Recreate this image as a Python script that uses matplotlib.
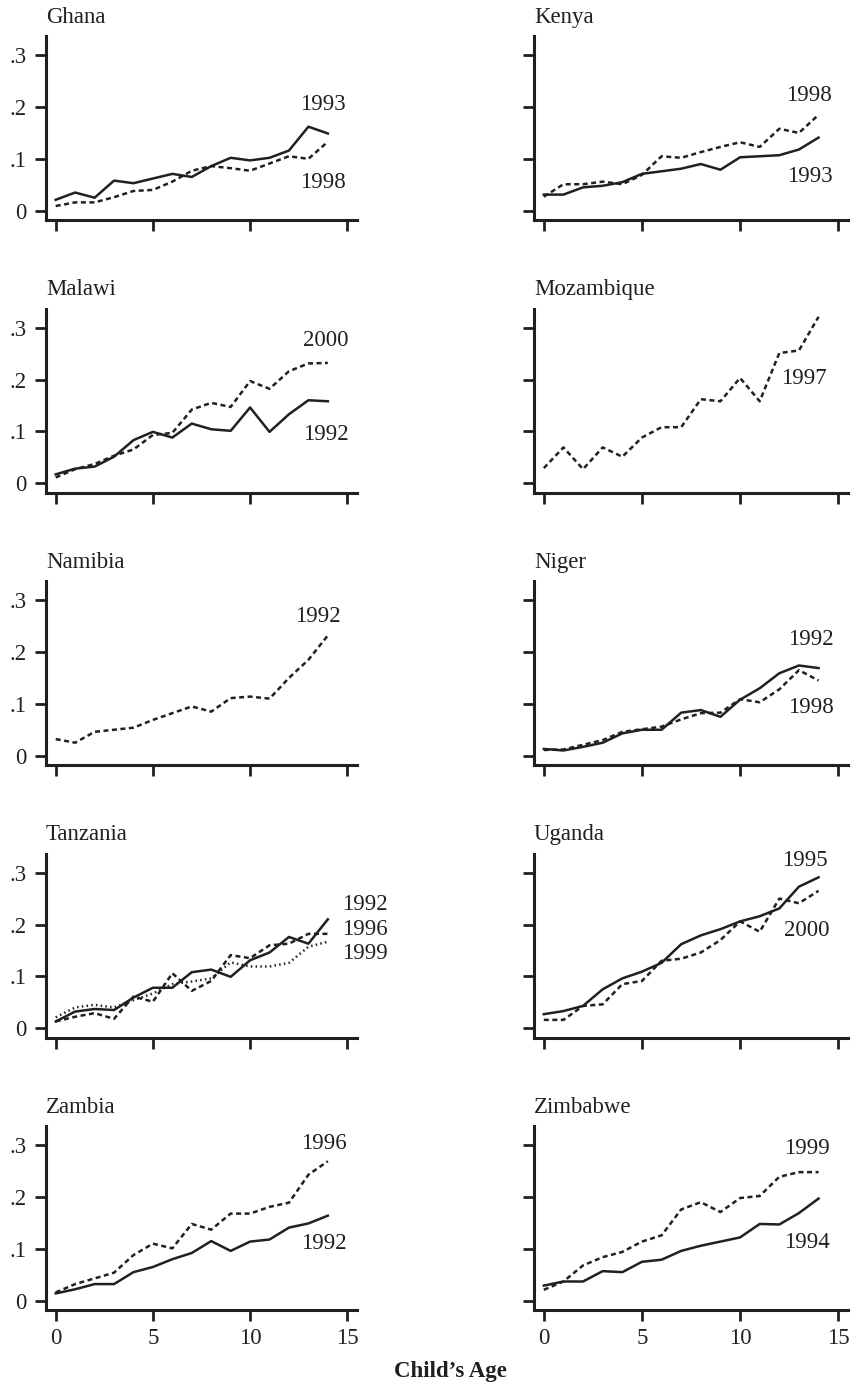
import matplotlib.pyplot as plt

# x: child's age, y: share
ages = list(range(15))

ghana_1993 = [0.021, 0.035, 0.025, 0.058, 0.053, 0.062, 0.071, 0.065, 0.086, 0.102, 0.097, 0.102, 0.116, 0.162, 0.149]
ghana_1998 = [0.009, 0.016, 0.016, 0.026, 0.038, 0.040, 0.056, 0.077, 0.086, 0.082, 0.077, 0.091, 0.105, 0.100, 0.133]

kenya_1993 = [0.031, 0.031, 0.045, 0.048, 0.055, 0.071, 0.076, 0.081, 0.090, 0.079, 0.103, 0.105, 0.107, 0.118, 0.141]
kenya_1998 = [0.027, 0.051, 0.051, 0.056, 0.051, 0.069, 0.105, 0.102, 0.113, 0.123, 0.132, 0.123, 0.158, 0.150, 0.185]

malawi_1992 = [0.017, 0.028, 0.032, 0.051, 0.083, 0.099, 0.088, 0.115, 0.104, 0.101, 0.146, 0.099, 0.133, 0.160, 0.158]
malawi_2000 = [0.011, 0.027, 0.037, 0.053, 0.065, 0.093, 0.097, 0.142, 0.155, 0.147, 0.197, 0.182, 0.216, 0.231, 0.232]

mozambique_1997 = [0.029, 0.069, 0.027, 0.069, 0.051, 0.088, 0.108, 0.108, 0.162, 0.158, 0.203, 0.158, 0.251, 0.256, 0.321]

namibia_1992 = [0.032, 0.025, 0.046, 0.050, 0.054, 0.069, 0.082, 0.095, 0.085, 0.111, 0.114, 0.110, 0.150, 0.185, 0.232]

niger_1992 = [0.013, 0.010, 0.017, 0.025, 0.043, 0.050, 0.050, 0.083, 0.088, 0.075, 0.108, 0.130, 0.159, 0.174, 0.169]
niger_1998 = [0.011, 0.012, 0.021, 0.030, 0.046, 0.051, 0.056, 0.070, 0.082, 0.083, 0.109, 0.103, 0.128, 0.165, 0.145]

tanzania_1992 = [0.013, 0.032, 0.037, 0.035, 0.059, 0.078, 0.078, 0.108, 0.113, 0.099, 0.131, 0.146, 0.176, 0.163, 0.210]
tanzania_1996 = [0.013, 0.022, 0.029, 0.018, 0.061, 0.051, 0.106, 0.072, 0.091, 0.141, 0.135, 0.160, 0.163, 0.182, 0.182]
tanzania_1999 = [0.021, 0.040, 0.045, 0.040, 0.054, 0.067, 0.085, 0.090, 0.096, 0.127, 0.119, 0.119, 0.126, 0.157, 0.167]

uganda_1995 = [0.027, 0.033, 0.043, 0.075, 0.096, 0.109, 0.126, 0.162, 0.179, 0.191, 0.206, 0.216, 0.231, 0.273, 0.291]
uganda_2000 = [0.016, 0.016, 0.043, 0.046, 0.085, 0.091, 0.130, 0.134, 0.146, 0.170, 0.206, 0.186, 0.250, 0.241, 0.265]

zambia_1992 = [0.014, 0.022, 0.032, 0.032, 0.055, 0.065, 0.080, 0.092, 0.115, 0.096, 0.114, 0.118, 0.141, 0.149, 0.164]
zambia_1996 = [0.016, 0.032, 0.043, 0.054, 0.088, 0.110, 0.101, 0.148, 0.137, 0.168, 0.168, 0.181, 0.189, 0.243, 0.269]

zimbabwe_1994 = [0.029, 0.037, 0.037, 0.057, 0.055, 0.075, 0.079, 0.096, 0.106, 0.114, 0.122, 0.148, 0.147, 0.169, 0.197]
zimbabwe_1999 = [0.021, 0.037, 0.068, 0.084, 0.094, 0.114, 0.126, 0.176, 0.190, 0.171, 0.198, 0.202, 0.239, 0.248, 0.248]

y_ticks = [0, 0.1, 0.2, 0.3]
y_tick_labels = ['0', '.1', '.2', '.3']
x_ticks = [0, 5, 10, 15]

# line styles
DASH = (0, (2.0, 1.4))
DOT = (0, (0.6, 1.3))
SOLID = '-'

# (country, [(year label, values, style, label x, label y)])
panels = [
    ('Ghana', [('1993', ghana_1993, SOLID, 13.75, 0.204), ('1998', ghana_1998, DASH, 13.75, 0.055)]),
    ('Kenya', [('1998', kenya_1998, DASH, 13.5, 0.222), ('1993', kenya_1993, SOLID, 13.55, 0.066)]),
    ('Malawi', [('2000', malawi_2000, DASH, 13.9, 0.275), ('1992', malawi_1992, SOLID, 13.9, 0.093)]),
    ('Mozambique', [('1997', mozambique_1997, DASH, 13.25, 0.201)]),
    ('Namibia', [('1992', namibia_1992, DASH, 13.5, 0.268)]),
    ('Niger', [('1992', niger_1992, SOLID, 13.6, 0.224), ('1998', niger_1998, DASH, 13.6, 0.092)]),
    ('Tanzania', [('1992', tanzania_1992, SOLID, 15.9, 0.238), ('1996', tanzania_1996, DASH, 15.9, 0.191),
                  ('1999', tanzania_1999, DOT, 15.9, 0.144)]),
    ('Uganda', [('1995', uganda_1995, SOLID, 13.3, 0.323), ('2000', uganda_2000, DASH, 13.4, 0.188)]),
    ('Zambia', [('1996', zambia_1996, DASH, 13.8, 0.303), ('1992', zambia_1992, SOLID, 13.8, 0.110)]),
    ('Zimbabwe', [('1999', zimbabwe_1999, DASH, 13.4, 0.294), ('1994', zimbabwe_1994, SOLID, 13.4, 0.112)]),
]

plt.rcParams['font.family'] = ['Liberation Serif', 'DejaVu Serif']
FS = 16.5
INK = '#231f20'

W, H = 854, 1393
fig = plt.figure(figsize=(W / 100, H / 100), dpi=100)

col_left = [46, 534]
col_width = [311, 314]
ax_h = 184

for i, (country, series) in enumerate(panels):
    r, c = divmod(i, 2)
    bottom_px = 220 + r * 272.5
    ax = fig.add_axes([col_left[c] / W, 1 - bottom_px / H, col_width[c] / W, ax_h / H])

    for year, vals, ls, lx, ly in series:
        ax.plot(ages, vals, color=INK, lw=1.8, linestyle=ls)
        ax.text(lx, ly, year, ha='center', va='center', fontsize=FS, color=INK)

    ax.set_xlim(-0.5, 15.5)
    ax.set_ylim(-0.018, 0.337)
    ax.set_xticks(x_ticks)
    ax.set_yticks(y_ticks)
    ax.set_yticklabels(y_tick_labels if c == 0 else [])
    if r < 4:
        ax.set_xticklabels([])

    for s in ['top', 'right']:
        ax.spines[s].set_visible(False)
    for s in ['left', 'bottom']:
        ax.spines[s].set_linewidth(2.2)
        ax.spines[s].set_color(INK)
    ax.tick_params(axis='both', direction='out', length=8, width=2, color=INK,
                   labelsize=FS, labelcolor=INK)
    ax.tick_params(axis='y', pad=6)
    ax.tick_params(axis='x', pad=5)

    ax.set_title(country, loc='left', fontsize=FS, pad=9.5, color=INK)

fig.text(450 / W, 1 - 1377 / H, "Child\u2019s Age", ha='center', va='baseline',
         fontsize=FS, fontweight='bold', color=INK)

fig.savefig('out.png', dpi=100)
